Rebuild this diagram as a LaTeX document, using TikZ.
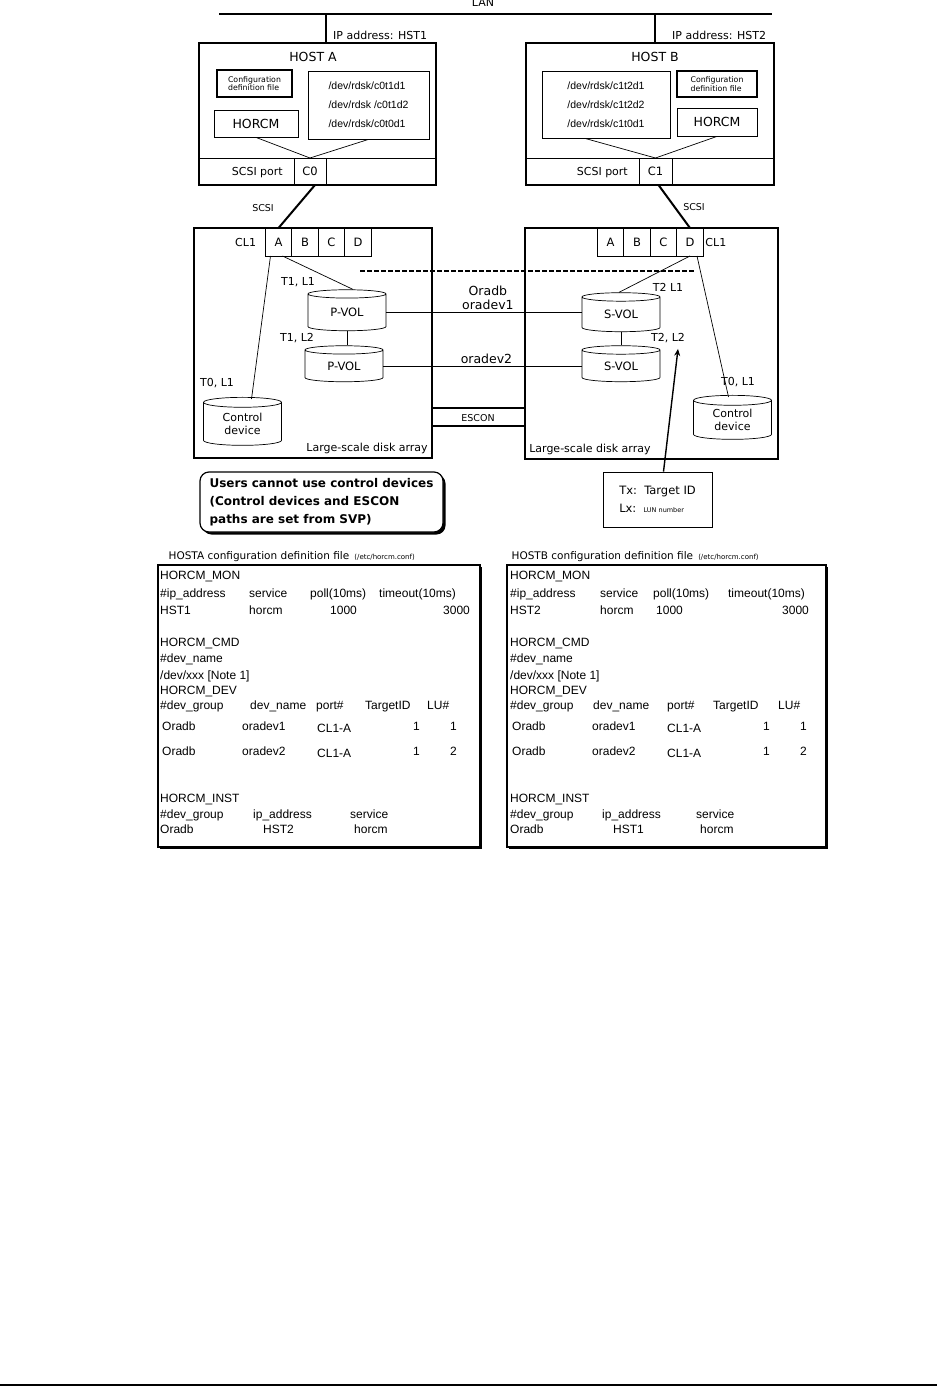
\documentclass[tikz,border=0pt]{standalone}
\usepackage{fontspec}
\setmainfont{DejaVu Sans}
\newfontfamily\listfont{Liberation Sans}
\usetikzlibrary{positioning,arrows.meta,shapes.geometric,shadows,calc}

\newcommand{\cf}[2]{\makebox[#1pt][l]{#2}}

\begin{document}
\begin{tikzpicture}[
  x=1pt, y=-1pt,
  >={Stealth[length=7pt,width=6pt]},
  lbl/.style={inner sep=0pt, font=\fontsize{11}{13}\selectfont},
  small/.style={inner sep=0pt, font=\fontsize{9.5}{11}\selectfont},
  big/.style={inner sep=0pt, font=\fontsize{12.5}{14}\selectfont},
  host/.style={draw, line width=1.8pt},
  inbox/.style={draw, line width=0.8pt},
  cfgfile/.style={draw, line width=2pt, align=left, inner sep=1pt,
                  font=\fontsize{7.8}{8.5}\selectfont},
  cell/.style={draw, line width=0.7pt, inner sep=0pt, outer sep=0pt,
               minimum width=26.5pt, minimum height=28pt,
               font=\fontsize{11.5}{13}\selectfont},
  vol/.style={cylinder, shape border rotate=90, draw, aspect=0.25,
              line width=0.7pt, inner sep=0pt, minimum width=78pt,
              align=center, font=\fontsize{11.5}{13}\selectfont},
  wire/.style={line width=0.7pt},
  bus/.style={line width=2pt},
  note/.style={draw, fill=white, rounded corners=9pt, line width=1.2pt,
               drop shadow={shadow xshift=2.5pt, shadow yshift=-2.5pt, opacity=1, fill=black},
               align=left, minimum width=243pt, minimum height=60pt, inner sep=4pt,
               font=\bfseries\fontsize{12}{18}\selectfont},
  listbox/.style={draw, fill=white, line width=1.1pt,
                  drop shadow={shadow xshift=1.8pt, shadow yshift=-1.8pt, opacity=1, fill=black},
                  minimum width=322pt, minimum height=282pt},
  listing/.style={anchor=north west, inner sep=0pt, align=left,
                  font=\listfont\fontsize{12}{16}\selectfont}
]
\useasboundingbox (0,0) rectangle (937,1387);

% --- LAN
\coordinate (lanW) at (219,14);
\coordinate (lanE) at (772,14);
\draw[bus] (lanW) -- (lanE);
\node[lbl] (lan) at (483,2) {LAN};

% --- host A
\node[host, minimum width=237pt, minimum height=142pt] (hostA) at (317.5,114) {};
\node[big] (hostAname) at (313,57) {HOST A};
\node[cfgfile, minimum width=75pt, minimum height=27pt] (cfgA) at (254.5,83.5) {Configuration\\definition file};
\node[inbox, big, minimum width=84pt, minimum height=27pt] (horcmA) at (256,123.5) {HORCM};
\node[inbox, minimum width=121pt, minimum height=68pt, align=left,
      font=\listfont\fontsize{10.5}{19}\selectfont] (devA) at (368.5,105)
      {/dev/rdsk/c0t1d1\\/dev/rdsk /c0t1d2\\/dev/rdsk/c0t0d1};
\node[cell, minimum width=32pt, minimum height=27pt] (c0) at (310,171.5) {C0};
\draw[wire] (hostA.west |- c0.north) -- (hostA.east |- c0.north);
\node[lbl, left=11pt of c0, yshift=-1.5pt] (scsiA) {SCSI port};
\draw[wire] (horcmA.south) -- (c0.north);
\draw[wire] (devA.south) -- (c0.north);
\draw[bus] ($(hostA.north)+(8.5,0)$) -- ($(hostA.north |- lanW)+(8.5,0)$);
\node[lbl, anchor=west] (ipA) at (333,35) {IP address: HST1};

% --- host B
\node[host, minimum width=248pt, minimum height=142pt] (hostB) at (650,114) {};
\node[big] (hostBname) at (655,57) {HOST B};
\node[inbox, minimum width=128pt, minimum height=67pt, align=left,
      font=\listfont\fontsize{10.5}{19}\selectfont] (devB) at (606,104.5)
      {/dev/rdsk/c1t2d1\\/dev/rdsk/c1t2d2\\/dev/rdsk/c1t0d1};
\node[cfgfile, minimum width=80pt, minimum height=26pt] (cfgB) at (717,84) {Configuration\\definition file};
\node[inbox, big, minimum width=80pt, minimum height=28pt] (horcmB) at (717,122) {HORCM};
\node[cell, minimum width=33pt, minimum height=27pt] (c1) at (655.5,171.5) {C1};
\draw[wire] (hostB.west |- c1.north) -- (hostB.east |- c1.north);
\node[lbl, left=11pt of c1, yshift=-1.5pt] (scsiB) {SCSI port};
\draw[wire] ($(devB.south)+(-21,0)$) -- (c1.north);
\draw[wire] (horcmB.south) -- (c1.north);
\draw[bus] ($(hostB.north)+(5,0)$) -- ($(hostB.north |- lanW)+(5,0)$);
\node[lbl, anchor=west] (ipB) at (672,35) {IP address: HST2};

% --- disk arrays
\node[host, minimum width=238pt, minimum height=230pt] (arrL) at (313,343) {};
\node[host, minimum width=253pt, minimum height=231pt] (arrR) at (651.5,343.5) {};

\node[cell] (pA) at (278.5,242) {A};
\node[cell, right=0pt of pA] (pB) {B};
\node[cell, right=0pt of pB] (pC) {C};
\node[cell, right=0pt of pC] (pD) {D};
\node[lbl, left=9pt of pA] (clL) {CL1};

\node[cell] (qA) at (610.5,242) {A};
\node[cell, right=0pt of qA] (qB) {B};
\node[cell, right=0pt of qB] (qC) {C};
\node[cell, right=0pt of qC] (qD) {D};
\node[lbl, right=2pt of qD] (clR) {CL1};

\draw[bus] ($(c0.south)+(5,0)$) -- (pA.north);
\node[small] (scsiL) at (263,208) {SCSI};
\draw[bus] ($(c1.south)+(3,0)$) -- (qD.north);
\node[small] (scsiR) at (694,207) {SCSI};

% --- volumes
\node[vol, minimum height=41pt] (pvol1) at (347,312.5) {P-VOL};
\node[vol, minimum height=36pt] (pvol2) at (344,366) {P-VOL};
\node[vol, minimum height=48pt, font=\fontsize{11}{13}\selectfont] (ctlL) at (242.5,424) {Control\\device};
\node[vol, minimum height=39pt] (svol1) at (621,314.5) {S-VOL};
\node[vol, minimum height=36pt] (svol2) at (621,366) {S-VOL};
\node[vol, minimum height=44pt, font=\fontsize{11}{13}\selectfont] (ctlR) at (732.5,420) {Control\\device};

\node[lbl] (t1l1) at (298,282) {T1, L1};
\node[lbl] (t1l2) at (297,338) {T1, L2};
\node[lbl] (t0l1a) at (217,383) {T0, L1};
\node[lbl] (t2l1) at (668,287) {T2 L1};
\node[lbl] (t2l2) at (668,338) {T2, L2};
\node[lbl] (t0l1b) at (738,382) {T0, L1};

\draw[wire] ($(pA.south)+(-8,0)$) -- ($(ctlL.north)+(9,2)$);
\draw[wire] ($(pA.south)+(4,0)$) -- ($(pvol1.north)+(6,0)$);
\draw[wire] (pvol1.south) -- (pvol1.south |- pvol2.north);
\draw[wire] (qD.south) -- ($(svol1.north)+(-2,0)$);
\draw[wire] ($(qD.south)+(7,0)$) -- ($(ctlR.north)+(-4,2)$);
\draw[wire] (svol1.south) -- (svol1.south |- svol2.north);

% pairs
\draw[line width=1.6pt, dash pattern=on 5pt off 2pt] (360,271) -- (695,271);
\draw[wire] (pvol1.east) -- (pvol1.east -| svol1.west)
  node[big, pos=.52, above=2pt] (ora1) {oradev1};
\node[big, above=4pt of ora1] (oradb) {Oradb};
\draw[wire] (pvol2.east) -- (pvol2.east -| svol2.west)
  node[big, pos=.52, above=2pt] (ora2) {oradev2};

% ESCON
\draw[bus] (arrL.east |- 0,408) -- (arrR.west |- 0,408);
\draw[bus] (arrL.east |- 0,426) -- (arrR.west |- 0,426);
\node[small] (escon) at (478,418) {ESCON};

\node[lbl, anchor=south east] (dskL) at ($(arrL.south east)+(-5,-5)$) {Large-scale disk array};
\node[lbl, anchor=south west] (dskR) at ($(arrR.south west)+(5,-5)$) {Large-scale disk array};

% --- notes
\node[note] (note) at (321.5,502) {Users cannot use control devices\\(Control devices and ESCON\\paths are set from SVP)};
\node[inbox, inner sep=4pt, minimum width=109pt, minimum height=55pt, align=left,
      font=\fontsize{11.5}{13}\selectfont] (txbox) at (657.5,499.5)
  {Tx:~~Target ID\\[5pt]Lx:~~{\fontsize{6.5}{7}\selectfont LUN number}};
\draw[->, line width=1.4pt] ($(txbox.north)+(6,0)$) -- ($(t2l2.south)+(10,6)$);

% --- configuration definition files
\node[listbox] (boxA) at (319,706) {};
\node[anchor=south west, inner sep=0pt, font=\fontsize{10.5}{12}\selectfont] (titleA)
  at ($(boxA.north west)+(11,-3)$)
  {HOSTA configuration definition file\, {\fontsize{7}{8}\selectfont(/etc/horcm.conf)}};
\node[listing] (listA) at (160,571) {%
  HORCM\_MON\\[2pt]
  \cf{89}{\#ip\_address}\cf{61}{service}\cf{69}{poll(10ms)}timeout(10ms)\\[1pt]
  \cf{89}{HST1}\cf{81}{horcm}\cf{113}{1000}3000\\[16pt]
  HORCM\_CMD\\
  \#dev\_name\\[1pt]
  /dev/xxx [Note 1]\\[-1pt]
  HORCM\_DEV\\[-1pt]
  \cf{90}{\#dev\_group}\cf{66}{dev\_name}\cf{49}{port\#}\cf{62}{TargetID}LU\#\\[5pt]
  \cf{82}{\,Oradb}\cf{75}{oradev1}\cf{96}{\raisebox{-2pt}{CL1-A}}\cf{37}{1}1\\[9pt]
  \cf{82}{\,Oradb}\cf{75}{oradev2}\cf{96}{\raisebox{-2pt}{CL1-A}}\cf{37}{1}2\\[31pt]
  HORCM\_INST\\
  \cf{93}{\#dev\_group}\cf{97}{ip\_address}service\\[-1pt]
  \cf{103}{Oradb}\cf{91}{HST2}horcm};

\node[listbox, minimum width=319pt] (boxB) at (666.5,706) {};
\node[anchor=south west, inner sep=0pt, font=\fontsize{10.5}{12}\selectfont] (titleB)
  at ($(boxB.north west)+(5,-3)$)
  {HOSTB configuration definition file\, {\fontsize{7}{8}\selectfont(/etc/horcm.conf)}};
\node[listing] (listB) at (510,571) {%
  HORCM\_MON\\[2pt]
  \cf{90}{\#ip\_address}\cf{53}{service}\cf{75}{poll(10ms)}timeout(10ms)\\[1pt]
  \cf{90}{HST2}\cf{56}{horcm}\cf{126}{1000}3000\\[16pt]
  HORCM\_CMD\\
  \#dev\_name\\[1pt]
  /dev/xxx [Note 1]\\[-1pt]
  HORCM\_DEV\\[-1pt]
  \cf{83}{\#dev\_group}\cf{74}{dev\_name}\cf{46}{port\#}\cf{65}{TargetID}LU\#\\[5pt]
  \cf{82}{\,Oradb}\cf{75}{oradev1}\cf{96}{\raisebox{-2pt}{CL1-A}}\cf{37}{1}1\\[9pt]
  \cf{82}{\,Oradb}\cf{75}{oradev2}\cf{96}{\raisebox{-2pt}{CL1-A}}\cf{37}{1}2\\[31pt]
  HORCM\_INST\\
  \cf{92}{\#dev\_group}\cf{94}{ip\_address}service\\[-1pt]
  \cf{103}{Oradb}\cf{87}{HST1}horcm};

% --- page rule
\draw[line width=2pt] (0,1385) -- (937,1385);
\end{tikzpicture}
\end{document}
